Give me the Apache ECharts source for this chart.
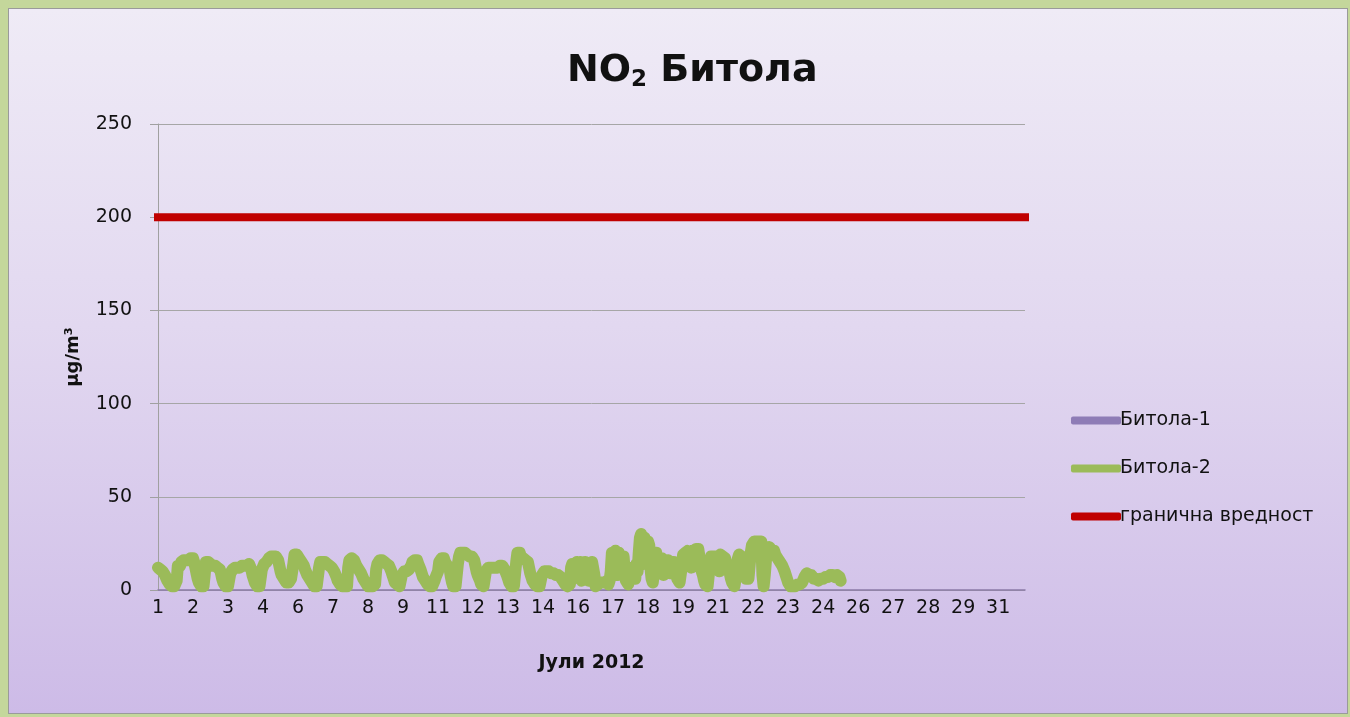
<!DOCTYPE html>
<html>
<head>
<meta charset="utf-8">
<script src="https://cdn.jsdelivr.net/npm/echarts@6/dist/echarts.min.js"></script>
<style>
  html, body { margin: 0; padding: 0; }
  body { width: 1350px; height: 717px; background: #c4d79b; position: relative; overflow: hidden; }
  #frame {
    position: absolute; left: 8px; top: 8px; width: 1338px; height: 704px;
    border: 1px solid #9a9a9a;
    background: linear-gradient(to bottom, #efebf6 0%, #e2d8f0 45%, #cdbbe7 100%);
  }
  #chart { position: absolute; left: 0; top: 0; width: 1350px; height: 717px; }
</style>
</head>
<body>
<div id="frame"></div>
<div id="chart"></div>
<script>
// дни во јули, секој ден има 24 часовни вредности
var days = [];
for (var d = 1; d <= 31; d++) days.push(String(d));

var yTicks = [0, 50, 100, 150, 200, 250];
var limitValue = 200;

// Битола-1 - нема податоци
var bitola1 = [];

// Битола-2, часовни вредности по денови (µg/m3), прочитани од сликата
var d01 = [12,12,11,12,10,9,8,7,5,4,3,2,2,2,2,3,5,13,14,13,15,14,16,15];
var d02 = [16,17,16,17,17,16,17,15,12,9,6,4,3,2,2,2,8,15,16,15,16,14,15,13];
var d03 = [14,13,13,12,13,11,9,6,4,3,2,2,2,2,9,10,11,10,12,11,12,13,12,13];
var d04 = [13,14,13,14,13,14,14,13,11,8,6,4,3,2,2,2,2,11,12,14,13,15,16,17];
var d05 = [16,18,17,18,17,18,18,16,13,10,8,7,6,5,4,5,4,5,6,5,14,19,20,19];
var d06 = [18,17,16,15,14,13,11,10,8,7,6,5,4,3,2,2,2,2,12,15,16,15,16,15];
var d07 = [15,14,14,13,12,12,11,10,9,7,5,4,3,2,2,1,2,2,2,12,16,17,17,16];
var d08 = [16,15,13,12,11,10,9,8,6,5,4,3,2,2,2,2,2,2,3,11,14,15,16,16];
var d09 = [16,16,15,15,14,13,13,12,10,8,6,4,3,3,2,2,3,8,9,10,9,10,10,11];
var d10 = [12,13,15,14,16,15,16,14,13,11,9,7,6,5,4,3,2,2,3,2,3,5,7,8];
var d11 = [10,15,16,17,16,17,15,14,13,12,11,7,4,2,2,2,3,14,18,20,21,20,21,20];
var d12 = [20,19,19,18,19,18,18,16,13,10,8,7,5,3,2,2,2,10,11,12,11,12,12,12];
var d13 = [13,12,13,12,13,13,14,13,12,11,10,8,6,4,3,2,2,2,3,15,20,19,20,18];
var d14 = [18,17,17,16,17,15,12,9,7,5,4,3,2,2,2,2,3,8,9,10,9,10,10,10];
var d15 = [10,9,10,9,9,8,9,8,8,7,6,5,4,3,2,2,2,3,12,14,15,14,15,15];
var d16 = [14,6,15,5,14,7,15,6,14,5,13,6,15,14,8,2,2,3,3,4,3,4,3,4];
var d17 = [4,5,3,5,10,20,21,12,21,19,8,20,18,17,9,18,10,5,4,3,12,9,12,13];
var d18 = [12,6,14,10,20,28,30,29,14,28,26,20,26,24,12,6,4,3,14,20,19,10,17,18];
var d19 = [17,8,16,16,10,16,15,9,15,14,15,12,9,6,5,4,4,13,19,18,20,19,21,20];
var d20 = [19,12,21,22,14,22,21,22,18,14,10,8,5,3,2,2,3,14,18,17,18,19,18,19];
var d21 = [18,10,19,19,18,19,17,15,13,11,9,6,4,3,2,2,10,17,19,20,18,16,12,8];
var d22 = [6,5,6,7,20,24,25,26,25,26,26,26,26,26,8,2,8,16,22,23,23,22,21,20];
var d23 = [21,19,18,17,16,15,14,13,12,10,8,6,4,3,2,2,2,2,2,3,3,2,3,3];
var d24 = [4,5,7,8,9,8,8,7,8,7,6,7,6,6,5,6,6,5,6,6,7,6,7,8];
var d25 = [8,7,8,8,7,8,8,9,7,5];

var bitola2 = [].concat(d01,d02,d03,d04,d05,d06,d07,d08,d09,d10,d11,d12,d13,
    d14,d15,d16,d17,d18,d19,d20,d21,d22,d23,d24,d25);

// категории по час - ознака е денот
var hours = [];
days.forEach(function(day){
    for (var h = 0; h < 24; h++) hours.push(day);
});
var limit = hours.map(function(){ return limitValue; });

var font = "'Comic Sans MS', 'DejaVu Sans', sans-serif";
var chart = echarts.init(document.getElementById('chart'));

chart.setOption({
    backgroundColor: 'transparent',
    animation: false,
    textStyle: { fontFamily: font },
    title: {
        text: '{n|NO}{s|2}{n| Битола}',
        left: 562,
        top: 45,
        textStyle: {
            rich: {
                n: { fontSize: 38, fontWeight: 'bold', color: '#111', fontFamily: font },
                s: { fontSize: 23, fontWeight: 'bold', color: '#111', fontFamily: font,
                     verticalAlign: 'bottom', padding: [19, 0, 0, 0] }
            }
        }
    },
    legend: {
        orient: 'vertical',
        left: 1066,
        top: 406,
        icon: 'roundRect',
        itemWidth: 50,
        itemHeight: 8,
        itemGap: 29,
        textStyle: { fontSize: 19, color: '#111', fontFamily: font, padding: [0, 0, 0, -6] },
        data: ['Битола-1', 'Битола-2', 'гранична вредност']
    },
    grid: { left: 158, top: 124, right: 325, bottom: 127, containLabel: false },
    xAxis: {
        type: 'category',
        data: hours,
        boundaryGap: false,
        name: 'Јули 2012',
        nameLocation: 'middle',
        nameGap: 64,
        nameTextStyle: { fontSize: 19, fontWeight: 'bold', color: '#111', fontFamily: font },
        axisLine: { lineStyle: { color: '#8a7aa8', width: 1.5 } },
        axisTick: { show: false },
        axisLabel: { interval: 29, fontSize: 19, color: '#111', margin: 9, fontFamily: font },
        splitLine: { show: false }
    },
    yAxis: {
        type: 'value',
        min: yTicks[0],
        max: yTicks[yTicks.length - 1],
        interval: 50,
        name: 'µg/m³',
        nameLocation: 'middle',
        nameGap: 76,
        nameTextStyle: { fontSize: 18, fontWeight: 'bold', color: '#111', fontFamily: font },
        axisLine: { show: true, lineStyle: { color: '#a0a0a0' } },
        axisTick: { show: true, inside: false, length: 8, lineStyle: { color: '#a0a0a0' } },
        axisLabel: { fontSize: 19, color: '#111', margin: 26, fontFamily: font },
        splitLine: { lineStyle: { color: '#a6a6a6', width: 1 } }
    },
    series: [
        {
            name: 'Битола-1',
            type: 'line',
            data: bitola1,
            showSymbol: false,
            itemStyle: { color: '#8e7cb6' },
            lineStyle: { color: '#8e7cb6', width: 9 }
        },
        {
            name: 'Битола-2',
            type: 'line',
            data: bitola2,
            showSymbol: false,
            itemStyle: { color: '#9bbb59' },
            lineStyle: { color: '#9bbb59', width: 12, cap: 'round', join: 'round' }
        },
        {
            name: 'гранична вредност',
            type: 'line',
            data: limit,
            showSymbol: false,
            itemStyle: { color: '#c00000' },
            lineStyle: { color: '#c00000', width: 8, cap: 'square' }
        }
    ]
});
</script>
</body>
</html>
